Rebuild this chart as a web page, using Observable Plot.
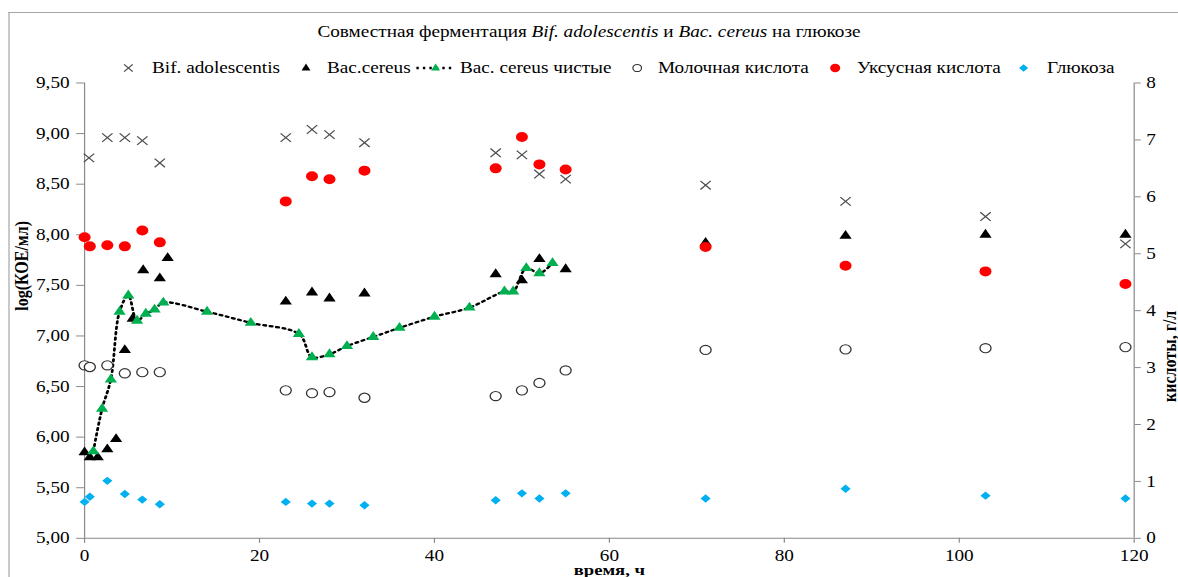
<!DOCTYPE html>
<html>
<head>
<meta charset="utf-8">
<script src="https://cdn.jsdelivr.net/npm/d3@7"></script>
<script src="https://cdn.jsdelivr.net/npm/@observablehq/plot@0.6"></script>
<style>
  html, body { margin: 0; padding: 0; background: white; overflow: hidden; }
  #page { position: absolute; left: 0; top: 0; width: 981.67px; height: 577px;
          transform: scaleX(1.2); transform-origin: 0 0; font-family: "Liberation Serif", serif; color: black; }
  #frame { position: absolute; left: 6.67px; top: 12px; width: 1100px; height: 700px;
           border-left: 1px solid #a6a6a6; border-top: 1px solid #a6a6a6; }
  #title { position: absolute; left: 0; top: 23px; width: 981.67px; text-align: center;
           font-size: 16px; line-height: 18px; white-space: nowrap; }
  .lg { position: absolute; top: 59px; font-size: 16px; line-height: 18px; white-space: nowrap; }
  .sym { position: absolute; }
  #chart { position: absolute; left: 0; top: 76px; }
</style>
</head>
<body>
<div id="page">
  <div id="frame"></div>
  <div id="title">Совместная ферментация <i>Bif. adolescentis</i> и <i>Bac. cereus</i> на глюкозе</div>
  <div id="legend"></div>
  <div id="chart"></div>
</div>
<script>
// ---- data (time, h) ----
const bifT = [0.5, 2.6, 4.6, 6.6, 8.6, 23, 26, 28, 32, 47, 50, 52, 55, 71, 87, 103, 119];
const bifV = [8.76, 8.96, 8.96, 8.93, 8.71, 8.96, 9.04, 8.99, 8.91, 8.81, 8.79, 8.60, 8.55, 8.49, 8.33, 8.18, 7.91];

const bacT = [0, 0.6, 1.5, 2.6, 3.6, 4.6, 5.5, 6.7, 8.6, 9.5, 23, 26, 28, 32, 47, 50, 52, 55, 71, 87, 103, 119];
const bacV = [5.85, 5.80, 5.80, 5.88, 5.98, 6.86, 7.17, 7.65, 7.57, 7.77, 7.34, 7.43, 7.37, 7.42, 7.61, 7.55, 7.76, 7.66, 7.92, 7.99, 8.00, 8.00];

const pureT = [1, 2, 3, 4, 5, 6, 7, 8, 9, 14, 19, 24.5, 26, 28, 30, 33, 36, 40, 44, 48, 49, 50.5, 52, 53.5];
const pureV = [5.86, 6.28, 6.57, 7.24, 7.40, 7.15, 7.22, 7.26, 7.33, 7.24, 7.13, 7.02, 6.79, 6.82, 6.90, 6.99, 7.08, 7.19, 7.28, 7.44, 7.44, 7.67, 7.62, 7.72];

const acidT = [0, 0.6, 2.6, 4.6, 6.6, 8.6, 23, 26, 28, 32, 47, 50, 52, 55, 71, 87, 103, 119];
const lacticV = [3.04, 3.01, 3.04, 2.90, 2.92, 2.92, 2.60, 2.55, 2.57, 2.47, 2.50, 2.60, 2.73, 2.95, 3.31, 3.32, 3.34, 3.36];
const aceticV = [5.29, 5.13, 5.15, 5.13, 5.41, 5.20, 5.92, 6.36, 6.31, 6.46, 6.50, 7.05, 6.57, 6.48, 5.12, 4.79, 4.69, 4.47];
const glucoseV = [0.64, 0.73, 1.01, 0.78, 0.68, 0.60, 0.64, 0.61, 0.61, 0.58, 0.67, 0.79, 0.70, 0.79, 0.70, 0.87, 0.75, 0.70];

const leftTicks = [5, 5.5, 6, 6.5, 7, 7.5, 8, 8.5, 9, 9.5];
const rightTicks = [0, 1, 2, 3, 4, 5, 6, 7, 8];
const xTicks = [0, 20, 40, 60, 80, 100, 120];

const labels = {
  yLeft: "log(КОЕ/мл)", yRight: "кислоты, г/л", x: "время, ч",
  series: ["Bif. adolescentis", "Bac.cereus", "Bac. cereus чистые", "Молочная кислота", "Уксусная кислота", "Глюкоза"]
};

// ---- helpers ----
const zip = (t, v) => t.map((x, i) => ({t: x, v: v[i]}));
const leftMin = 5, leftMax = 9.5, rightMax = 8;
const toLeft = v => leftMin + v * (leftMax - leftMin) / rightMax;   // right axis -> left domain
const fromLeft = v => (v - leftMin) * rightMax / (leftMax - leftMin);
const comma = d => d.toFixed(2).replace(".", ",");
const gray = "#898989";

const bif = zip(bifT, bifV), bac = zip(bacT, bacV), pure = zip(pureT, pureV);
const lactic = zip(acidT, lacticV), acetic = zip(acidT, aceticV), glucose = zip(acidT, glucoseV);

const chart = Plot.plot({
  width: 982, height: 501,
  marginLeft: 70, marginRight: 37, marginTop: 6.5, marginBottom: 39,
  x: {domain: [0, 120]},
  y: {domain: [leftMin, leftMax]},
  style: {fontFamily: "Liberation Serif", fontSize: "16px", overflow: "visible", background: "transparent", color: "black"},
  marks: [
    Plot.ruleY([leftMin], {stroke: gray}),
    Plot.ruleX([0], {stroke: gray}),
    Plot.ruleX([120], {stroke: gray}),
    Plot.axisY(leftTicks, {anchor: "left", tickSize: 6.5, tickPadding: 6, tickFormat: comma, stroke: gray, fill: "black", label: null}),
    Plot.axisY(rightTicks.map(toLeft), {anchor: "right", tickSize: 5, tickPadding: 5, tickFormat: d => String(Math.round(fromLeft(d))), stroke: gray, fill: "black", label: null}),
    Plot.axisX(xTicks, {anchor: "bottom", tickSize: 5, tickPadding: 6, stroke: gray, fill: "black", label: null}),
    Plot.text([labels.yLeft], {frameAnchor: "left", dx: -47, rotate: -90, lineAnchor: "bottom", fontWeight: "bold", fontSize: 16}),
    Plot.text([labels.yRight], {frameAnchor: "right", dx: 35, rotate: -90, lineAnchor: "bottom", fontWeight: "bold", fontSize: 16}),
    Plot.text([labels.x], {frameAnchor: "bottom", dy: 37, lineAnchor: "bottom", fontWeight: "bold", fontSize: 15.5}),
    // series
    Plot.dot(bif, {x: "t", y: "v", symbol: "times", r: 4, stroke: "#4d4d4d", strokeWidth: 1.1}),
    Plot.dot(bac, {x: "t", y: "v", symbol: "triangle", r: 3.8, fill: "black", stroke: "none"}),
    Plot.line(pure, {x: "t", y: "v", curve: "catmull-rom", stroke: "black", strokeWidth: 2.3, strokeDasharray: "2 3.4"}),
    Plot.dot(pure, {x: "t", y: "v", symbol: "triangle", r: 3.8, fill: "#00b050", stroke: "none"}),
    Plot.dot(lactic, {x: "t", y: d => toLeft(d.v), symbol: "circle", r: 4.6, fill: "white", stroke: "#333", strokeWidth: 1.1}),
    Plot.dot(acetic, {x: "t", y: d => toLeft(d.v), symbol: "circle", r: 5, fill: "#ff0000", stroke: "none"}),
    Plot.dot(glucose, {x: "t", y: d => toLeft(d.v), symbol: "diamond2", r: 3.8, fill: "#00b0f0", stroke: "none"})
  ]
});
document.getElementById("chart").appendChild(chart);

// ---- legend ----
const NS = "http://www.w3.org/2000/svg";
const legendItems = [
  {sx: 106.7, tx: 126.7, draw: () => `<path d="M-3.6,-3.6L3.6,3.6M-3.6,3.6L3.6,-3.6" stroke="#4d4d4d" stroke-width="1.1"/>`},
  {sx: 255, tx: 272.5, draw: () => `<path d="M0,-4.4L3.7,2.6L-3.7,2.6Z" fill="black"/>`},
  {sx: 363.3, tx: 383.3, draw: () => `<line x1="-16" x2="16" y1="0" y2="0" stroke="black" stroke-width="2.3" stroke-dasharray="2 3.4"/><path d="M0,-4.4L3.7,2.6L-3.7,2.6Z" fill="#00b050"/>`},
  {sx: 530.8, tx: 548.3, draw: () => `<circle r="3.6" fill="white" stroke="#333" stroke-width="1"/>`},
  {sx: 695.8, tx: 714.2, draw: () => `<circle r="4.2" fill="#ff0000"/>`},
  {sx: 853.3, tx: 872.5, draw: () => `<path d="M0,-3.8L3.8,0L0,3.8L-3.8,0Z" fill="#00b0f0"/>`}
];
const legend = document.getElementById("legend");
legendItems.forEach((it, i) => {
  const svg = document.createElementNS(NS, "svg");
  svg.setAttribute("width", 40); svg.setAttribute("height", 16);
  svg.setAttribute("class", "sym");
  svg.style.left = (it.sx - 20) + "px"; svg.style.top = (68 - 8) + "px";
  svg.innerHTML = `<g transform="translate(20,8)">${it.draw()}</g>`;
  legend.appendChild(svg);
  const s = document.createElement("span");
  s.className = "lg"; s.style.left = it.tx + "px"; s.textContent = labels.series[i];
  legend.appendChild(s);
});
</script>
</body>
</html>
